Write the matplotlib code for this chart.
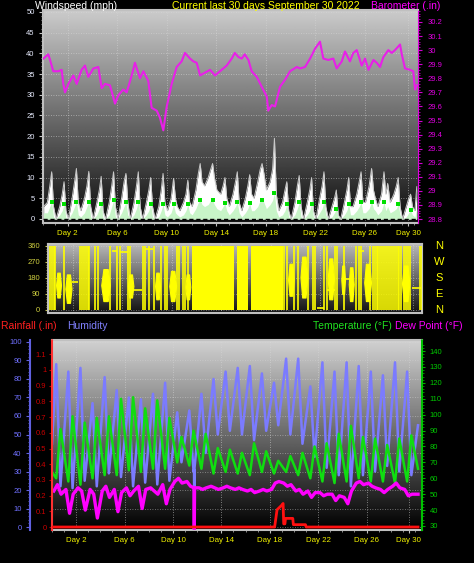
import matplotlib
matplotlib.use("Agg")
import matplotlib.pyplot as plt
import matplotlib.transforms as mtrans
import numpy as np

plt.rcParams['font.family'] = ['Liberation Sans', 'DejaVu Sans']

W, H = 474, 563

# ---------------- data ----------------
day_ticks = [2, 6, 10, 14, 18, 22, 26, 29.5]
day_labels = ["Day 2", "Day 6", "Day 10", "Day 14", "Day 18", "Day 22", "Day 26", "Day 30"]

# barometer (in)
baro_t = [0.03, 0.43, 0.57, 0.83, 1.24, 1.51, 1.64, 1.78, 2.05, 2.45,
          2.72, 3.12, 3.39, 3.66, 4.07, 4.47, 4.74, 5.01, 5.41, 5.82,
          6.09, 6.49, 6.76, 7.17, 7.43, 7.84, 8.11, 8.51, 8.78, 9.19,
          9.45, 9.72, 10.0, 10.4, 10.8, 11.2, 11.47, 11.88, 12.15, 12.42,
          12.69, 13.09, 13.5, 13.9, 14.3, 14.84, 15.25, 15.5, 15.8, 16.06,
          16.3, 16.6, 16.86, 17.27, 17.67, 18.08, 18.2, 18.48, 18.75, 19.15,
          19.56, 19.96, 20.5, 20.77, 21.17, 21.58, 21.98, 22.38, 22.65, 23.05,
          23.46, 23.73, 24.14, 24.4, 24.8, 25.07, 25.35, 25.75, 26.02, 26.3,
          26.7, 26.97, 27.23, 27.5, 27.9, 28.18, 28.44, 28.85, 28.99, 29.25,
          29.66, 29.92, 30.06, 30.2]
baro_v = [29.94, 29.97, 29.93, 29.85, 29.85, 29.86, 29.76, 29.70, 29.76, 29.82,
          29.76, 29.86, 29.89, 29.81, 29.87, 29.88, 29.73, 29.76, 29.75, 29.62,
          29.68, 29.72, 29.70, 29.82, 29.91, 29.80, 29.85, 29.78, 29.59, 29.57,
          29.52, 29.43, 29.60, 29.76, 29.88, 29.92, 29.98, 29.94, 29.92, 29.91,
          29.82, 29.84, 29.86, 29.82, 29.85, 29.89, 29.94, 29.98, 29.95, 29.94,
          29.97, 29.93, 29.85, 29.81, 29.74, 29.67, 29.57, 29.61, 29.60, 29.74,
          29.79, 29.85, 29.88, 29.87, 29.88, 29.94, 30.01, 30.06, 29.94, 29.93,
          29.94, 29.87, 29.92, 29.99, 29.92, 29.98, 30.00, 29.89, 29.94, 29.86,
          29.93, 29.91, 29.88, 29.95, 30.00, 29.98, 30.00, 30.04, 29.97, 29.87,
          29.86, 29.85, 29.72, 29.75]

# wind (mph): 5 samples per day at these fractions of the day
wind_frac = [0.05, 0.35, 0.55, 0.7, 0.85]
gust = [3, 4, 8, 11.4, 3,    0, 3, 6, 9, 2,       0, 5, 9, 12.2, 4,    2, 5, 8, 11.5, 3,
        0, 4, 7, 10.3, 2,    0, 4, 8, 11.4, 3,    0, 5, 9, 11, 4,      0, 4, 8, 11.4, 3,
        0, 4, 7, 10, 3,      0, 3, 7, 11, 4,      2, 5, 9.8, 5, 3,     2, 4, 6, 9.4, 4,
        3, 7, 11, 13.4, 9,   8, 10, 12, 13.4, 10, 7, 6, 8, 10, 5,      3, 6, 9, 11.4, 4,
        2, 5, 8, 10.7, 6,    5, 9, 12, 13.4, 11,  7, 9, 12, 19.5, 6,   2, 4, 7, 9, 2,
        0, 4, 8, 10.5, 3,    0, 4, 7, 10, 2,      0, 5, 8, 11.4, 3,    0, 3, 5, 7, 1,
        0, 4, 7, 10, 3,      3, 6, 9, 11.4, 4,    4, 8, 12.2, 7, 5,    3, 6, 11.4, 6, 8.6,
        4, 6, 8, 10, 3,      0, 3, 5, 6, 3]
wind_avg = [1.5, 1.5, 3, 4, 0.5,  0, 1, 2, 3.5, 0.3,   0, 1.5, 3, 4.2, 1,   0.5, 1.5, 3, 4, 0.5,
            0, 1, 2.5, 3.5, 0.3,  0, 1, 3, 4.5, 0.5,   0, 1.5, 3, 4, 1,     0, 1, 2.5, 4.2, 0.5,
            0, 1, 2, 3.5, 0.5,    0, 0.5, 2, 3.5, 1,   0.5, 1.5, 3.5, 1.5, 1, 0.5, 1, 2, 3.5, 1.5,
            1, 2.5, 4, 4.6, 3.5,  3, 3.5, 4.5, 4.6, 3.5, 2.5, 2, 3, 3.8, 2,  1, 2, 3, 4, 1.5,
            0.5, 1.5, 2.5, 3.8, 2, 2, 3, 4.5, 4.6, 4,  2.5, 3.5, 4.5, 6.3, 2, 0.5, 1, 2, 3.5, 0.5,
            0, 1, 2.5, 4, 0.5,    0, 1, 2, 3.6, 0.5,   0, 1.5, 2.5, 4, 1,   0, 0.5, 1.5, 2.5, 0.3,
            0, 1, 2, 3.6, 1,      1, 2, 3, 4, 1.5,     1.5, 2.5, 4.2, 2.5, 2, 1, 2, 4, 2, 3,
            1.5, 2, 2.5, 3.5, 1,  0, 0.5, 1.5, 2.2, 1]
wind_end_t = [30.05, 30.2]
gust_end = [2, 7.8]
avg_end = [0.5, 2.5]

# wind direction (deg)
spike_t = [0.2, 0.3, 0.45, 0.55, 1.3, 2.55, 2.75, 2.9, 3.05, 3.2, 3.35, 3.8, 4.0,
           5.05, 5.6, 5.85, 6.45, 6.6, 7.65, 7.85, 8.2, 8.6, 9.1, 9.45, 9.6,
           10.4, 10.55, 10.9, 11.1, 11.35, 19.1, 19.3, 19.9, 20.2, 21.0, 21.4,
           21.55, 22.3, 22.55, 23.2, 23.35, 23.9, 24.9, 25.1, 25.3, 26.0, 26.25,
           26.4, 26.55, 26.7, 26.85, 27.0, 27.15, 27.35, 27.5, 27.65, 27.8, 27.95,
           28.1, 28.25, 28.4, 28.55, 28.75, 28.9, 29.05, 29.25, 30.05, 30.2]
blob_start = [0.65, 1.4, 4.3, 6.45, 8.65, 9.8, 11.1, 19.4, 20.4, 22.6, 23.7, 24.3, 25.55, 28.6]
blob_end = [1.05, 1.9, 5.0, 6.9, 9.05, 10.35, 11.5, 19.85, 20.95, 23.1, 24.0, 24.7, 26.1, 29.2]
blob_lo = [70, 40, 50, 70, 60, 50, 60, 80, 70, 60, 90, 50, 50, 50]
blob_hi = [210, 200, 230, 200, 210, 220, 200, 260, 300, 290, 250, 240, 260, 250]
flat_start = [1.9, 5.15, 5.85, 6.9, 7.85, 21.75, 22.55, 23.8, 25.1, 29.4]
flat_end = [2.45, 5.55, 6.45, 7.6, 8.5, 22.3, 23.2, 24.6, 25.5, 30.1]
flat_dir = [160, 330, 325, 115, 340, 10, 110, 175, 330, 125]
solid_start = [11.6, 15.3, 16.4]
solid_end = [15.0, 16.15, 19.0]
compass = ["N", "W", "S", "E", "N"]
compass_deg = [360, 270, 180, 90, 0]

# temperature (F): daily low / high
temp_lo = [60, 58, 56, 60, 62, 62, 65, 64, 66, 66, 70, 68, 66, 63, 64,
           63, 62, 64, 63, 64, 62, 60, 58, 57, 58, 60, 58, 58, 57, 58]
temp_hi = [91, 99, 95, 98, 99, 110, 111, 104, 109, 98, 86, 90, 88, 79, 78,
           76, 82, 77, 71, 74, 76, 80, 82, 88, 93, 86, 85, 81, 85, 87]
temp_first, temp_last = 64, 66

# humidity (%): daily high / low
hum_hi = [88, 84, 86, 67, 81, 74, 70, 69, 72, 78, 62, 63, 72, 80, 84,
          86, 87, 83, 78, 91, 91, 76, 89, 84, 89, 87, 84, 82, 89, 84]
hum_lo = [22, 21, 25, 22, 29, 27, 22, 24, 23, 25, 35, 30, 40, 50, 52,
          50, 47, 52, 55, 50, 45, 38, 32, 28, 22, 28, 30, 33, 30, 28]
hum_first, hum_last = 45, 55

# dew point (F): 3 readings per day
dew_frac = [0.15, 0.45, 0.75]
dew = [52, 56, 50,  53, 38, 50,  54, 52, 40,  53, 50, 35,  52, 55, 48,
       53, 39, 51,  54, 49, 52,  55, 41, 53,  54, 52, 50,  56, 44, 53,
       58, 60, 57,  58, 55, 54,  54, 53, 54,  55, 54, 53,  54, 55, 54,
       53, 54, 53,  52, 53, 51,  52, 53, 52,  53, 57, 58,  57, 55, 56,
       52, 53, 50,  52, 48, 51,  51, 49, 50,  50, 46, 49,  48, 44, 52,
       57, 58, 56,  57, 55, 54,  53, 51, 53,  55, 57, 54,  53, 49, 50]
dew_last = 50

# sensor glitch (humidity and dew point dropped out)
glitch_t = [11.74, 11.76, 11.78]
glitch_hum = [31, 0, 32]
glitch_dew = [54, 28, 54]

# rainfall (in)
rain_t = [0, 18.4, 18.6, 19.0, 19.1, 19.15, 19.25, 19.3, 19.9, 19.95, 20.95, 21.0, 30.25]
rain_v = [0, 0, 0.11, 0.14, 0.15, 0.02, 0.02, 0.055, 0.055, 0.015, 0.015, 0, 0]

# ---------------- helpers ----------------
days = np.arange(30)


def frac_box(x0, y0, x1, y1):
    return [x0 / W, 1 - y1 / H, (x1 - x0) / W, (y1 - y0) / H]


def gradient(ax, top, bottom):
    g = np.linspace(top, bottom, 256).reshape(-1, 1)
    ax.imshow(g, cmap="gray", vmin=0, vmax=1, extent=[0, 1, 0, 1],
              transform=ax.transAxes, aspect="auto", zorder=0, interpolation="bilinear")


def day_axis(ax, xmax, labels=True):
    ax.set_xlim(0, xmax)
    ax.set_xticks(day_ticks)
    ax.set_xticks(np.arange(0, 31), minor=True)
    ax.set_xticklabels(day_labels if labels else [])
    ax.tick_params(axis="x", colors="#c0c0c0", labelcolor="#f0f000", labelsize=5.7,
                   length=2, pad=3)
    ax.tick_params(axis="x", which="minor", colors="#a0a0a0", length=1.5)
    ax.grid(axis="x", color="#d8d8d8", ls=(0, (1, 2)), lw=0.6, alpha=0.7)


fig = plt.figure(figsize=(W / 100, H / 100), dpi=100)
fig.patch.set_facecolor("black")

# ---------------- top panel: wind + barometer ----------------
axw = fig.add_axes(frac_box(43, 10, 418, 223))
gradient(axw, 0.80, 0.05)
wt = np.concatenate([(days[:, None] + np.array(wind_frac)[None, :]).ravel(), wind_end_t])
wg = np.concatenate([gust, gust_end])
wa = np.concatenate([wind_avg, avg_end])
axw.fill_between(wt, 0, wg, color="white", lw=0, zorder=2)
axw.plot(wt, wg, color="#c8c8c8", lw=0.7, zorder=2)
axw.fill_between(wt, 0, wa, color="#c8f5c8", lw=0, zorder=3)
peak = np.array(wind_avg).reshape(30, 5).argmax(axis=1)
axw.plot(days + np.array(wind_frac)[peak], np.array(wind_avg).reshape(30, 5).max(axis=1),
         "s", color="#00e000", ms=2.2, mew=0, zorder=4)
axw.axhline(0, color="black", lw=1, ls=(0, (3, 2)), zorder=4)
axw.set_ylim(-0.97, 50.48)
axw.set_yticks(np.arange(0, 51, 5))
axw.set_yticks(np.arange(0, 51, 1), minor=True)
axw.tick_params(axis="y", colors="#c8c8c8", labelcolor="#e8ecff", labelsize=5.5,
                length=3, pad=3)
axw.tick_params(axis="y", which="minor", colors="#b0b0b0", length=1.5)
axw.grid(axis="y", color="#d8d8d8", ls=(0, (1, 2)), lw=0.6, alpha=0.7)
day_axis(axw, 30.3)
for s in ["top", "left", "bottom"]:
    axw.spines[s].set_color("#c0c0c0")
    axw.spines[s].set_linewidth(1.5)
axw.spines["right"].set_visible(False)

axb = axw.twinx()
axb.plot(baro_t, baro_v, color="#e820e8", lw=1.5, zorder=5)
axb.set_ylim(28.772, 30.285)
axb.set_yticks(np.round(np.arange(28.8, 30.21, 0.1), 1))
axb.set_yticks(np.arange(28.8, 30.28, 0.02), minor=True)
axb.set_yticklabels([f"{v:g}" for v in np.round(np.arange(28.8, 30.21, 0.1), 1)])
axb.tick_params(axis="y", colors="#d000d0", labelcolor="#e000e0", labelsize=5.5,
                length=3, pad=4)
axb.tick_params(axis="y", which="minor", colors="#c000c0", length=1.5)
for s in ["top", "left", "bottom"]:
    axb.spines[s].set_visible(False)
axb.spines["right"].set_color("#e000e0")
axb.spines["right"].set_linestyle((0, (1, 1)))

# ---------------- middle panel: wind direction ----------------
axd = fig.add_axes(frac_box(48, 244, 422, 313))
gradient(axd, 0.72, 0.07)
for a, b in zip(solid_start, solid_end):
    axd.fill_between([a, b], 0, 360, color="#ffff00", lw=0, zorder=3)
axd.vlines(spike_t, 0, 360, color="#ffff00", lw=1.2, zorder=3)
for a, b, lo, hi in zip(blob_start, blob_end, blob_lo, blob_hi):
    w = b - a
    mid = (lo + hi) / 2
    axd.fill_between([a, a + 0.25 * w, b - 0.25 * w, b], [mid, lo, lo, mid], [mid, hi, hi, mid],
                     color="#ffff00", lw=0.8, edgecolor="#ffff00", zorder=3)
axd.hlines(flat_dir, flat_start, flat_end, color="#ffff00", lw=1.2, zorder=3)
axd.set_ylim(-16.9, 370.8)
axd.set_yticks([0, 90, 180, 270, 360])
axd.set_yticks(np.arange(0, 361, 15), minor=True)
axd.tick_params(axis="y", colors="#c8c850", labelcolor="#d0d040", labelsize=5.5,
                length=2.5, pad=3)
axd.tick_params(axis="y", which="minor", colors="#b0b040", length=1.2)
axd.grid(axis="y", color="#d8d8d8", ls=(0, (1, 2)), lw=0.6, alpha=0.6)
day_axis(axd, 30.22, labels=False)
axd.tick_params(axis="x", which="both", length=0)
for s in axd.spines.values():
    s.set_color("#c0c0c0")
    s.set_linewidth(1.5)
tr = mtrans.blended_transform_factory(axd.transAxes, axd.transData)
for lab, deg in zip(compass, compass_deg):
    axd.text(1.045, deg, lab, transform=tr, color="#ffff00", fontsize=8,
             ha="center", va="center")

# ---------------- bottom panel: humidity, temperature, dew point, rain ----------------
axh = fig.add_axes(frac_box(52, 340, 422, 530))
gradient(axh, 0.82, 0.0)
ht = np.concatenate([[0.0], np.column_stack([days + 0.35, days + 0.7]).ravel(), glitch_t, [30.25]])
hv = np.concatenate([[hum_first], np.column_stack([hum_hi, hum_lo]).ravel(), glitch_hum, [hum_last]])
o = np.argsort(ht, kind="stable")
axh.plot(ht[o], hv[o], color="#7b7bff", lw=1.8, zorder=3)
axh.set_ylim(-1.62, 101.08)
axh.set_yticks(np.arange(0, 101, 10))
axh.set_yticks(np.arange(0, 101, 2), minor=True)
axh.tick_params(axis="y", colors="#6060e0", labelcolor="#7070ff", labelsize=5.5,
                length=3, pad=3)
axh.tick_params(axis="y", which="minor", colors="#6060e0", length=1.5)
axh.grid(axis="y", color="#d8d8d8", ls=(0, (1, 2)), lw=0.6, alpha=0.6)
day_axis(axh, 30.58)
axh.spines["left"].set_position(("outward", 15.8))
axh.spines["left"].set_color("#6060e0")
axh.spines["left"].set_linewidth(1.5)
axh.spines["top"].set_color("#c0c0c0")
axh.spines["bottom"].set_color("#c0c0c0")
axh.spines["top"].set_linewidth(1.5)
axh.spines["bottom"].set_linewidth(1.5)
axh.spines["right"].set_visible(False)

axt = axh.twinx()
tt = np.concatenate([[0.0], np.column_stack([days + 0.35, days + 0.7]).ravel(), [30.25]])
tv = np.concatenate([[temp_first], np.column_stack([temp_lo, temp_hi]).ravel(), [temp_last]])
axt.plot(tt, tv, color="#10dd10", lw=1.8, zorder=3)
dt = np.concatenate([(days[:, None] + np.array(dew_frac)[None, :]).ravel(), glitch_t, [30.25]])
dv = np.concatenate([dew, glitch_dew, [dew_last]])
o = np.argsort(dt, kind="stable")
axt.plot(dt[o], dv[o], color="#ff00ff", lw=2.4, zorder=4)
axt.set_ylim(27.48, 146.98)
axt.set_yticks(np.arange(30, 141, 10))
axt.set_yticks(np.arange(30, 146, 2), minor=True)
axt.tick_params(axis="y", colors="#00b000", labelcolor="#00c800", labelsize=5.5,
                length=2.5, pad=3)
axt.tick_params(axis="y", which="minor", colors="#00a000", length=1.5)
for s in ["top", "left", "bottom"]:
    axt.spines[s].set_visible(False)
axt.spines["right"].set_color("#00c000")
axt.spines["right"].set_linestyle((0, (1, 1)))
axt.spines["right"].set_linewidth(1.5)

axr = axh.twinx()
axr.yaxis.tick_left()
axr.plot(rain_t, rain_v, color="#ff1010", lw=2, zorder=5)
axr.set_ylim(-0.019, 1.191)
axr.set_yticks(np.round(np.arange(0, 1.11, 0.1), 1))
axr.set_yticklabels([f"{v:g}" for v in np.round(np.arange(0, 1.11, 0.1), 1)])
axr.set_yticks(np.arange(0, 1.19, 0.02), minor=True)
axr.tick_params(axis="y", colors="#c00000", labelcolor="#c80000", labelsize=5.5,
                length=2, pad=2)
axr.tick_params(axis="y", which="minor", colors="#b00000", length=1)
for s in ["top", "right", "bottom"]:
    axr.spines[s].set_visible(False)
axr.spines["left"].set_color("#ff3030")
axr.spines["left"].set_linestyle((0, (1, 1)))
axr.spines["left"].set_linewidth(1.5)

# ---------------- headers ----------------
def label(x, y, s, c):
    fig.text(x / W, 1 - y / H, s, color=c, fontsize=7.5, ha="left", va="center")


label(35, 6, "Windspeed (mph)", "white")
label(172, 6, "Current last 30 days September 30 2022", "#ffff00")
label(371, 6, "Barometer (.in)", "#ff00ff")
label(1, 326, "Rainfall (.in)", "#ff2020")
label(67, 326, "Humidity", "#8080ff")
label(313, 326, "Temperature (°F)", "#20e020")
label(395, 326, "Dew Point (°F)", "#ff00ff")

fig.savefig("out.png", dpi=100, facecolor="black")
